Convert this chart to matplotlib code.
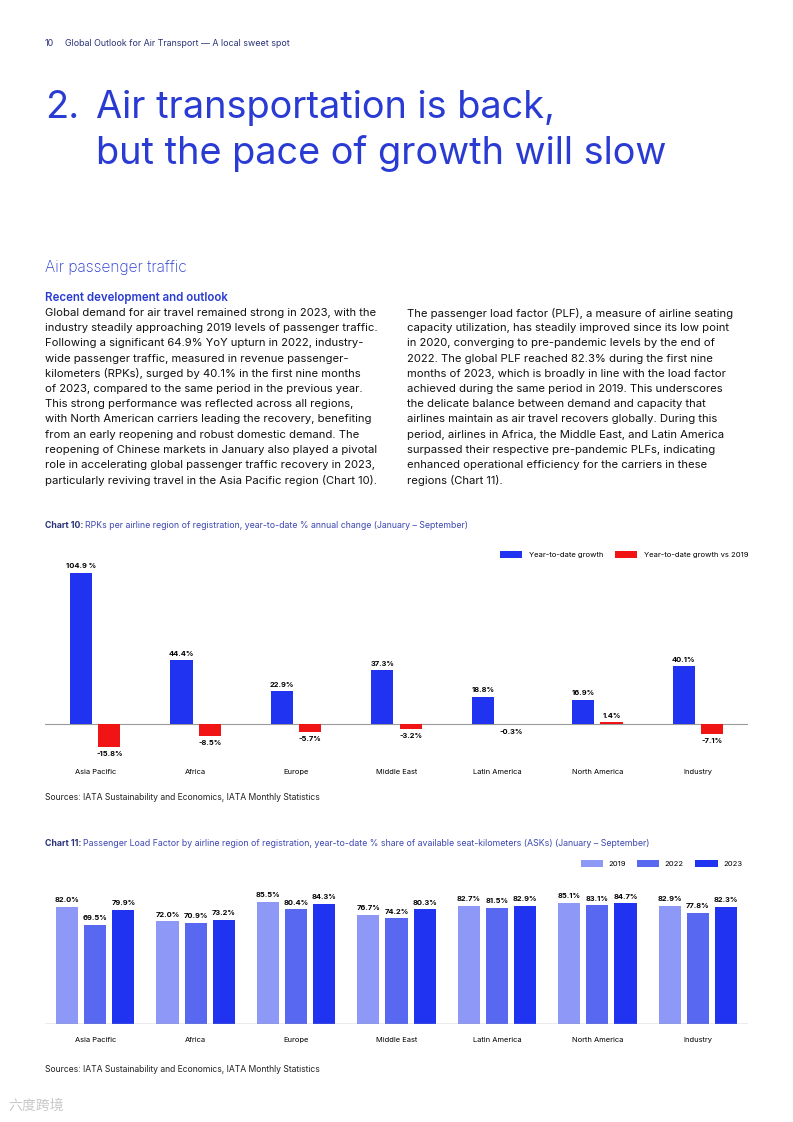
import matplotlib
matplotlib.use("Agg")
import matplotlib.pyplot as plt
from matplotlib.transforms import blended_transform_factory
import numpy as np

plt.rcParams['font.family'] = ['Inter', 'DejaVu Sans']

# chart 10 data
regions = ["Asia Pacific", "Africa", "Europe", "Middle East",
           "Latin America", "North America", "Industry"]
ytd_growth = [104.9, 44.4, 22.9, 37.3, 18.8, 16.9, 40.1]
ytd_vs_2019 = [-15.8, -8.5, -5.7, -3.2, -0.3, 1.4, -7.1]
growth_labels = ["104.9 %", "44.4%", "22.9%", "37.3%", "18.8%", "16.9%", "40.1%"]

# chart 11 data
plf_years = ["2019", "2022", "2023"]
plf_2019 = [82.0, 72.0, 85.5, 76.7, 82.7, 85.1, 82.9]
plf_2022 = [69.5, 70.9, 80.4, 74.2, 81.5, 83.1, 77.8]
plf_2023 = [79.9, 73.2, 84.3, 80.3, 82.9, 84.7, 82.3]

W, H = 793, 1122
TITLE_BLUE = "#2a3bd3"
NAVY = "#2b3378"
BLUE = "#1f33f0"
RED = "#f01414"
PLF_COLORS = ["#8e98f7", "#5868f0", "#1f33f0"]

left_col = [
    "Global demand for air travel remained strong in 2023, with the",
    "industry steadily approaching 2019 levels of passenger traffic.",
    "Following a significant 64.9% YoY upturn in 2022, industry-",
    "wide passenger traffic, measured in revenue passenger-",
    "kilometers (RPKs), surged by 40.1% in the first nine months",
    "of 2023, compared to the same period in the previous year.",
    "This strong performance was reflected across all regions,",
    "with North American carriers leading the recovery, benefiting",
    "from an early reopening and robust domestic demand. The",
    "reopening of Chinese markets in January also played a pivotal",
    "role in accelerating global passenger traffic recovery in 2023,",
    "particularly reviving travel in the Asia Pacific region (Chart 10).",
]
right_col = [
    "The passenger load factor (PLF), a measure of airline seating",
    "capacity utilization, has steadily improved since its low point",
    "in 2020, converging to pre-pandemic levels by the end of",
    "2022. The global PLF reached 82.3% during the first nine",
    "months of 2023, which is broadly in line with the load factor",
    "achieved during the same period in 2019. This underscores",
    "the delicate balance between demand and capacity that",
    "airlines maintain as air travel recovers globally. During this",
    "period, airlines in Africa, the Middle East, and Latin America",
    "surpassed their respective pre-pandemic PLFs, indicating",
    "enhanced operational efficiency for the carriers in these",
    "regions (Chart 11).",
]

fig = plt.figure(figsize=(W / 100, H / 100), dpi=100)
fig.patch.set_facecolor("white")


def ftext(x, y, s, **kw):
    # place text using pixel coords from top-left
    return fig.text(x / W, 1 - y / H, s, **kw)


def px_axes(l, t, r, b):
    return fig.add_axes([l / W, 1 - b / H, (r - l) / W, (b - t) / H])


def two_part(x, y, bold, rest, size, c1, c2):
    t = ftext(x, y, bold, fontsize=size, fontweight="bold", color=c1, va="center")
    fig.canvas.draw()
    bb = t.get_window_extent(fig.canvas.get_renderer())
    ftext(bb.x1 + 2, y, rest, fontsize=size, color=c2, va="center")


# header and titles
ftext(45, 43, "10", fontsize=6.4, color=NAVY, va="center")
ftext(65, 43, "Global Outlook for Air Transport \u2014 A local sweet spot",
      fontsize=6.4, color=NAVY, va="center")
ftext(45, 108, "2.", fontsize=27.3, color=TITLE_BLUE, va="center")
ftext(96, 108, "Air transportation is back,", fontsize=27.3, color=TITLE_BLUE, va="center")
ftext(96, 154, "but the pace of growth will slow", fontsize=27.3, color=TITLE_BLUE, va="center")
ftext(45, 267, "Air passenger traffic", fontsize=11.2, color=TITLE_BLUE,
      fontweight="light", va="center")
ftext(45, 298, "Recent development and outlook", fontsize=8.3, color=TITLE_BLUE,
      fontweight="semibold", va="center")
for i, line in enumerate(left_col):
    ftext(45, 313 + 15.2 * i, line, fontsize=8.1, color="#111111", va="center")
for i, line in enumerate(right_col):
    ftext(407, 313 + 15.2 * i, line, fontsize=8.1, color="#111111", va="center")

x = np.arange(len(regions))

# ---- Chart 10
two_part(45, 525, "Chart 10:",
         "RPKs per airline region of registration, year-to-date % annual change (January \u2013 September)",
         6.3, NAVY, "#3d48b0")
ax1 = px_axes(45, 545.4, 748, 760)
b1 = ax1.bar(x - 0.141, ytd_growth, width=0.22, color=BLUE, label="Year-to-date growth")
b2 = ax1.bar(x + 0.141, ytd_vs_2019, width=0.22, color=RED, label="Year-to-date growth vs 2019")
ax1.set_xlim(-0.5, 6.5)
ax1.set_ylim(-25, 124)
ax1.axhline(0, color="#9a9a9a", lw=0.8, zorder=0)
ax1.axis("off")
for xi, v, lab in zip(x, ytd_growth, growth_labels):
    ax1.annotate(lab, (xi - 0.141, v), xytext=(0, 2.5), textcoords="offset points",
                 ha="center", va="bottom", fontsize=5.4, fontweight="bold")
for xi, v in zip(x, ytd_vs_2019):
    if v >= 0:
        ax1.annotate(f"{v:.1f}%", (xi + 0.141, v), xytext=(0, 2.5), textcoords="offset points",
                     ha="center", va="bottom", fontsize=5.4, fontweight="bold")
    else:
        ax1.annotate(f"{v:.1f}%", (xi + 0.141, v), xytext=(0, -3), textcoords="offset points",
                     ha="center", va="top", fontsize=5.4, fontweight="bold")
tr1 = blended_transform_factory(ax1.transData, fig.transFigure)
for xi, r in zip(x, regions):
    ax1.text(xi, 1 - 772 / H, r, transform=tr1, ha="center", va="center", fontsize=5.4)
fig.legend(handles=[b1, b2], loc="upper right", bbox_to_anchor=(748 / W, 1 - 551 / H),
           ncol=2, frameon=False, fontsize=5.5, handlelength=2.9, handleheight=1.05,
           handletextpad=0.8, columnspacing=1.6, borderpad=0, borderaxespad=0)
ftext(45, 798, "Sources: IATA Sustainability and Economics, IATA Monthly Statistics",
      fontsize=6.2, color="#222222", va="center")

# ---- Chart 11
two_part(45, 843, "Chart 11:",
         "Passenger Load Factor by airline region of registration, year-to-date % share of available seat-kilometers (ASKs) (January \u2013 September)",
         6.35, NAVY, "#3d48b0")
ax2 = px_axes(45, 888.4, 748, 1024)
series = [plf_2019, plf_2022, plf_2023]
handles = []
for j, (vals, yr, col) in enumerate(zip(series, plf_years, PLF_COLORS)):
    off = (j - 1) * 0.28
    b = ax2.bar(x + off, vals, width=0.22, color=col, label=yr)
    handles.append(b)
    for xi, v in zip(x, vals):
        ax2.annotate(f"{v:.1f}%", (xi + off, v), xytext=(0, 2.5), textcoords="offset points",
                     ha="center", va="bottom", fontsize=5.4, fontweight="bold")
ax2.set_xlim(-0.5, 6.5)
ax2.set_ylim(0, 95)
ax2.axhline(0, color="#9a9a9a", lw=1.0, zorder=5)
ax2.axis("off")
tr2 = blended_transform_factory(ax2.transData, fig.transFigure)
for xi, r in zip(x, regions):
    ax2.text(xi, 1 - 1040 / H, r, transform=tr2, ha="center", va="center", fontsize=5.4)
fig.legend(handles=handles, loc="upper right", bbox_to_anchor=(742 / W, 1 - 860 / H),
           ncol=3, frameon=False, fontsize=5.5, handlelength=2.9, handleheight=1.05,
           handletextpad=0.7, columnspacing=1.5, borderpad=0, borderaxespad=0)
ftext(45, 1069, "Sources: IATA Sustainability and Economics, IATA Monthly Statistics",
      fontsize=6.2, color="#222222", va="center")

# watermark
ftext(8, 1106, "六度跨境", fontsize=10, color="#c8c8c8", va="center",
      family=["Noto Sans CJK SC", "DejaVu Sans"])

fig.savefig("out.png", dpi=100, facecolor="white")
